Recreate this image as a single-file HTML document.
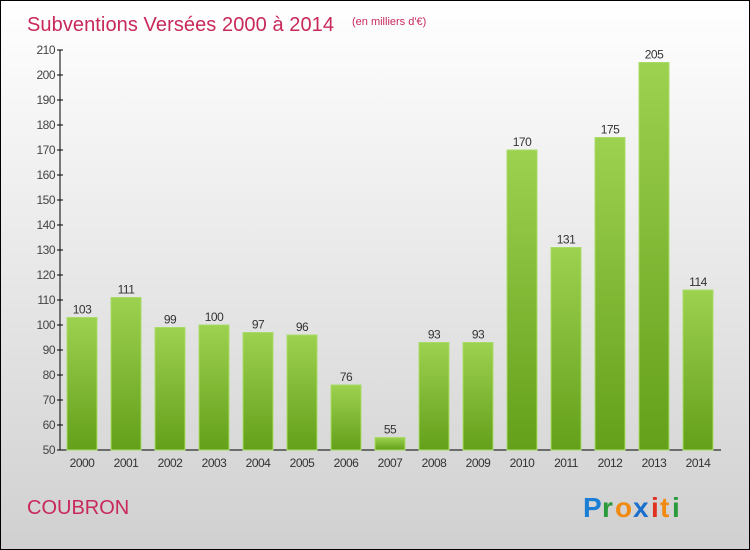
<!DOCTYPE html>
<html><head><meta charset="utf-8"><style>
body{margin:0}
#c{position:relative;width:748px;height:548px;border:1px solid #000;background:linear-gradient(#fff,#d0d0d0);overflow:hidden;font-family:"Liberation Sans",sans-serif}
</style></head><body>
<div id="c">
<svg width="748" height="548">
<defs><linearGradient id="g" x1="0" y1="0" x2="0" y2="1"><stop offset="0" stop-color="#9dd150"/><stop offset="1" stop-color="#64a01a"/></linearGradient></defs>
<text x="26" y="30" font-size="20" fill="#c8285a" textLength="307">Subventions Versées 2000 à 2014</text>
<text x="351" y="24" font-size="11" fill="#c8285a">(en milliers d'€)</text>
<text x="26" y="513" font-size="20" fill="#c8285a">COUBRON</text>
<g font-size="28" font-weight="bold">
<text x="582" y="516" fill="#1a7fd4">P</text><text x="601" y="516" fill="#2a9a3a">r</text><text x="614" y="516" fill="#f08a10">o</text><text x="632" y="516" fill="#1a70cc">x</text><text x="650" y="516" fill="#e03020">i</text><text x="659" y="516" fill="#f08a10">t</text><text x="671" y="516" fill="#2a9a3a">i</text>
</g>
<g id="plot"></g>
</svg>
</div>
<script>
const categories=["2000","2001","2002","2003","2004","2005","2006","2007","2008","2009","2010","2011","2012","2013","2014"];
const values=[103,111,99,100,97,96,76,55,93,93,170,131,175,205,114];
const ticks=[50,60,70,80,90,100,110,120,130,140,150,160,170,180,190,200,210];
const NS="http://www.w3.org/2000/svg";
const p=document.getElementById('plot');
const y=v=>449-(v-50)*2.5;
const x=i=>81+i*44;
function el(t,a){const e=document.createElementNS(NS,t);for(const k in a)e.setAttribute(k,a[k]);p.appendChild(e);return e;}
const ax=el('line',{x1:59,y1:y(210),x2:59,y2:449,stroke:'#000'});


const bx=el('line',{x1:59,y1:449,x2:720,y2:449,stroke:'#000'});


ticks.forEach(t=>{
 const l=el('line',{x1:56,y1:y(t),x2:62,y2:y(t),stroke:'#000'});
 
 
 const tx=el('text',{x:54,y:y(t)+4,'font-size':12,fill:'#444','text-anchor':'end','letter-spacing':'-0.5'});
 tx.textContent=t;
 
 
});
values.forEach((v,i)=>{
 const r=el('rect',{x:x(i)-15,y:y(v),width:30,height:449-y(v),fill:'url(#g)',stroke:'#a8dc68','stroke-width':1});
 
 
 const t=el('text',{x:x(i),y:y(v)-4,'font-size':12,fill:'#333','text-anchor':'middle','letter-spacing':'-0.5'});
 t.textContent=v;
 
 
 const c=el('text',{x:x(i),y:466,'font-size':12,fill:'#333','text-anchor':'middle','letter-spacing':'-0.5'});
 c.textContent=categories[i];
 
 
});
</script>
</body></html>
